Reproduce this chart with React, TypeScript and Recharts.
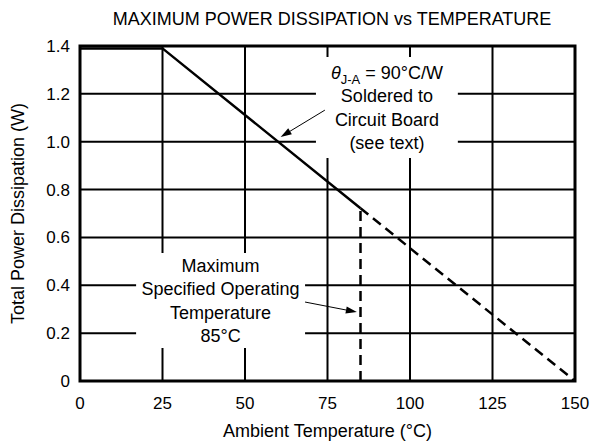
import { LineChart, Line, XAxis, YAxis, CartesianGrid, ReferenceArea, ReferenceLine } from "recharts"

// derating curve, θJA = 90°C/W
const solidTemp = [0, 25, 85]
const solidPower = [1.39, 1.39, 0.722]
const dashTemp = [85, 150]
const dashPower = [0.722, 0]
const limitTemp = [85, 85]
const limitPower = [0, 0.722]

const xTicks = [0, 25, 50, 75, 100, 125, 150]
const yTicks = [0, 0.2, 0.4, 0.6, 0.8, 1.0, 1.2, 1.4]
const yTickLabels = ["0", "0.2", "0.4", "0.6", "0.8", "1.0", "1.2", "1.4"]

const thetaNote = ["Soldered to", "Circuit Board", "(see text)"]
const tempNote = ["Maximum", "Specified Operating", "Temperature", "85°C"]

const FONT = "'Liberation Sans', Arial, sans-serif"

const toRows = (xs: number[], ys: number[]) => xs.map((t, i) => ({ t, p: ys[i] }))

function Arrow(props: any) {
  const { x1, y1, x2, y2 } = props
  const a = Math.atan2(y2 - y1, x2 - x1)
  const len = 11, hw = 3.5
  const bx = x2 - len * Math.cos(a), by = y2 - len * Math.sin(a)
  const pts = [
    [x2, y2],
    [bx - hw * Math.sin(a), by + hw * Math.cos(a)],
    [bx + hw * Math.sin(a), by - hw * Math.cos(a)],
  ].map((p) => p.join(",")).join(" ")
  return (
    <g>
      <line x1={x1} y1={y1} x2={bx} y2={by} stroke="#000" strokeWidth={1} />
      <polygon points={pts} fill="#000" />
    </g>
  )
}

function NoteText({ viewBox, lines, theta }: any) {
  const { x, y, width, height } = viewBox
  const cx = x + width / 2
  const all = theta ? ["", ...lines] : lines
  const step = 23.5
  const top = y + height / 2 - ((all.length - 1) * step) / 2
  return (
    <g fontFamily={FONT} fontSize={18} fill="#000">
      {all.map((l: string, i: number) =>
        theta && i === 0 ? (
          <text key={i} x={cx} y={top} dy="0.35em" textAnchor="middle">
            <tspan fontStyle="italic">θ</tspan>
            <tspan fontSize={13} dy={5}>J-A</tspan>
            <tspan dy={-5}> = 90°C/W</tspan>
          </text>
        ) : (
          <text key={i} x={cx} y={top + i * step} dy="0.35em" textAnchor="middle">{l}</text>
        )
      )}
    </g>
  )
}

export default function App() {
  return (
    <div style={{ position: "absolute", left: 0, top: 0, width: 594, height: 442, background: "#fff", fontFamily: FONT }}>
      <div style={{ position: "absolute", left: 70, top: 9, width: 524, textAlign: "center", fontSize: 18, lineHeight: "20px", color: "#000" }}>
        MAXIMUM POWER DISSIPATION vs TEMPERATURE
      </div>
      <LineChart width={594} height={442} margin={{ top: 46, right: 19, bottom: 0, left: 0 }}>
        <CartesianGrid stroke="#000" strokeWidth={2} horizontalValues={yTicks} verticalValues={xTicks} />
        <XAxis
          dataKey="t"
          type="number"
          domain={[0, 150]}
          ticks={xTicks}
          height={61}
          axisLine={false}
          tickLine={false}
          tickMargin={10}
          tick={{ fontSize: 17, fill: "#000", fontFamily: FONT }}
          allowDuplicatedCategory={false}
          label={{ value: "Ambient Temperature (°C)", position: "insideBottom", offset: 5, style: { fontSize: 18, fill: "#000", fontFamily: FONT } }}
        />
        <YAxis
          dataKey="p"
          type="number"
          domain={[0, 1.4]}
          ticks={yTicks}
          width={80}
          axisLine={false}
          tickLine={false}
          tickMargin={4}
          tickFormatter={(v: number) => yTickLabels[yTicks.indexOf(v)] ?? String(v)}
          tick={{ fontSize: 17, fill: "#000", fontFamily: FONT }}
          label={{ value: "Total Power Dissipation (W)", angle: -90, position: "insideLeft", offset: 18, style: { textAnchor: "middle", fontSize: 18, fill: "#000", fontFamily: FONT } }}
        />
        <ReferenceArea x1={71.5} x2={114.5} y1={0.932} y2={1.354} fill="#fff" fillOpacity={1} stroke="none" label={<NoteText lines={thetaNote} theta />} />
        <ReferenceArea x1={17} x2={68.2} y1={0.138} y2={0.535} fill="#fff" fillOpacity={1} stroke="none" label={<NoteText lines={tempNote} />} />
        <ReferenceArea x1={0} x2={150} y1={0} y2={1.4} fill="none" stroke="#000" strokeWidth={3} />
        <ReferenceLine segment={[{ x: 74.2, y: 1.132 }, { x: 60.8, y: 1.02 }]} shape={<Arrow />} />
        <ReferenceLine segment={[{ x: 68.2, y: 0.33 }, { x: 83.9, y: 0.288 }]} shape={<Arrow />} />
        <Line data={toRows(solidTemp, solidPower)} dataKey="p" stroke="#000" strokeWidth={2.5} dot={false} isAnimationActive={false} />
        <Line data={toRows(dashTemp, dashPower)} dataKey="p" stroke="#000" strokeWidth={2.5} strokeDasharray="10 6" dot={false} isAnimationActive={false} />
        <Line data={toRows(limitTemp, limitPower)} dataKey="p" stroke="#000" strokeWidth={2.5} strokeDasharray="10 6" dot={false} isAnimationActive={false} />
      </LineChart>
    </div>
  )
}
